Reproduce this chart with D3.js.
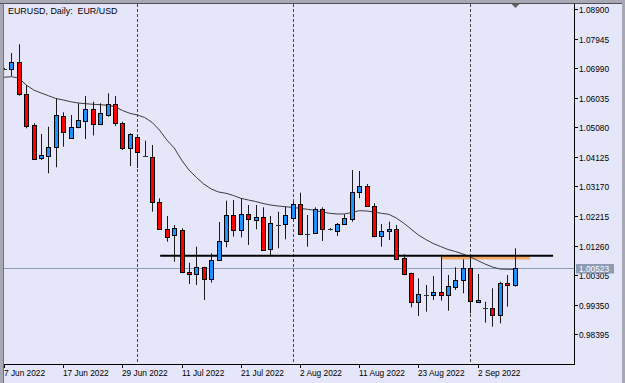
<!DOCTYPE html>
<html><head><meta charset="utf-8">
<script src="https://cdn.jsdelivr.net/npm/d3@7/dist/d3.min.js"></script>
<style>html,body{margin:0;padding:0;background:#e6e6fa;overflow:hidden}svg{display:block}</style>
</head><body>
<svg id="c" width="625" height="383"></svg>
<script>
// ---- data (EURUSD daily, bar index 0 = 7 Jun 2022) ----
const opens  = [1.06963,1.06953,1.07179,1.06165,1.05154,1.04073,1.04131,1.04428,1.05455,1.04725,
                1.05090,1.05274,1.05655,1.05177,1.05477,1.05832,1.05209,1.04402,1.04757,1.04163,
                1.04131,1.02678,1.01796,1.01580,1.01764,1.00398,1.00334,1.00560,1.00172,1.00818,
                1.01418,1.02248,1.01764,1.02281,1.02109,1.02193,1.01141,1.01935,1.01948,1.02142,
                1.02603,1.01635,1.01657,1.02442,1.01786,1.01709,1.01948,1.02142,1.03001,1.03185,
                1.02549,1.01580,1.01732,1.01796,1.00850,1.00366,0.99416,0.99665,0.99665,0.99752,
                0.99665,0.99933,1.00127,1.00527,0.99439,0.99255,0.99236,0.99019,1.00043,0.99965];
const highs  = [1.06995,1.07479,1.07760,1.06446,1.05209,1.04864,1.05099,1.06016,1.05564,1.05477,
                1.05855,1.06091,1.05907,1.05855,1.06178,1.06091,1.05261,1.04886,1.04831,1.04647,
                1.04509,1.02788,1.02216,1.01925,1.01819,1.00708,1.01225,1.00579,1.01012,1.02022,
                1.02710,1.02733,1.02788,1.02571,1.02571,1.02497,1.02216,1.02355,1.02516,1.02678,
                1.02968,1.02248,1.02497,1.02497,1.01828,1.01990,1.02271,1.03701,1.03669,1.03249,
                1.02626,1.01958,1.02032,1.01925,1.00979,1.00385,1.00204,0.99988,1.00279,1.00924,
                1.00311,1.00560,1.00818,1.00902,1.00343,0.99449,0.99881,1.00095,1.00311,1.01173];
const lows   = [1.06930,1.06737,1.06100,1.05048,1.04024,1.04024,1.03595,1.03789,1.04454,1.04702,
                1.05048,1.04702,1.04815,1.05154,1.05422,1.05122,1.04347,1.03830,1.03766,1.04137,
                1.02355,1.01764,1.01386,1.00740,1.00366,1.00020,0.99988,0.99504,1.00062,1.00795,
                1.01205,1.01548,1.01528,1.01280,1.01786,1.01118,1.00957,1.01173,1.01464,1.02087,
                1.01603,1.01225,1.01635,1.01409,1.01748,1.01570,1.01925,1.02032,1.02788,1.02516,
                1.01528,1.01225,1.01441,1.00795,1.00311,0.99268,0.98987,0.99126,0.99504,0.99481,
                0.99158,0.99827,0.99720,0.99074,0.99416,0.98771,0.98642,0.98751,0.99287,0.99933];
const closes = [1.06963,1.07179,1.06146,1.05122,1.04057,1.04170,1.04434,1.05477,1.04938,1.05090,
                1.05306,1.05655,1.05177,1.05532,1.05832,1.05209,1.04402,1.04854,1.04260,1.04163,
                1.02678,1.01819,1.01528,1.01819,1.00398,1.00334,1.00560,1.00172,1.00795,1.01418,
                1.02248,1.01764,1.02281,1.02109,1.02193,1.01141,1.01980,1.01935,1.02248,1.02603,
                1.01635,1.01635,1.02442,1.01786,1.01786,1.01948,1.02142,1.03001,1.03185,1.02549,
                1.01570,1.01732,1.01796,1.00828,1.00334,0.99416,0.99688,0.99665,0.99752,0.99665,
                0.99956,1.00149,1.00527,0.99449,0.99504,0.99255,0.99019,1.00043,0.99965,1.00523];
const maValues = [1.06695,1.06714,1.06672,1.06446,1.06285,1.06188,1.06100,1.06010,1.05962,1.05907,
                1.05865,1.05842,1.05823,1.05810,1.05790,1.05745,1.05623,1.05532,1.05477,1.05397,
                1.05242,1.04993,1.04670,1.04412,1.04024,1.03701,1.03459,1.03249,1.03088,1.02991,
                1.02949,1.02878,1.02788,1.02733,1.02684,1.02620,1.02571,1.02539,1.02516,1.02490,
                1.02465,1.02432,1.02400,1.02345,1.02303,1.02281,1.02281,1.02329,1.02387,1.02377,
                1.02345,1.02303,1.02271,1.02151,1.01990,1.01796,1.01603,1.01457,1.01328,1.01231,
                1.01134,1.01070,1.00989,1.00902,1.00779,1.00666,1.00569,1.00505,1.00495,1.00495];
const priceTicks = [1.08900,1.07945,1.06990,1.06035,1.05080,1.04125,1.03170,1.02215,1.01260,1.00305,0.99350,0.98395];
const dateTickIdx = [0,8,16,24,32,40,48,56,64];
const dateTickLabels = ["7 Jun 2022","17 Jun 2022","29 Jun 2022","11 Jul 2022","21 Jul 2022","2 Aug 2022","11 Aug 2022","23 Aug 2022","2 Sep 2022"];
const separatorIdx = [18,39,63];
const supportLine = {from:21.1, to:74.2, price:1.00931};
const zoneBox = {from:59.1, to:71.1, top:1.00950, bottom:1.00811};
const bidPrice = 1.00523;
const title = "EURUSD, Daily:  EUR/USD";

// ---- layout ----
const L=4, R=574, T=4, B=364;
const svg = d3.select("#c");
const x = d3.scaleLinear().domain([0,77.03]).range([L,R]);
const y = d3.scaleLinear().domain([0.97437,1.09061]).range([B,T]);
const cx = i => Math.round(x(i)) + 0.5;

// frame
svg.append("rect").attr("x",0).attr("y",0).attr("width",625).attr("height",383).attr("fill","#e6e6fa");
svg.append("rect").attr("x",0).attr("y",0).attr("width",625).attr("height",3).attr("fill","#a8a8b4");
svg.append("rect").attr("x",0).attr("y",0).attr("width",3).attr("height",383).attr("fill","#a8a8b4");
svg.append("line").attr("x1",0).attr("x2",625).attr("y1",3.5).attr("y2",3.5).attr("stroke","#505058");
svg.append("line").attr("x1",3.5).attr("x2",3.5).attr("y1",3).attr("y2",383).attr("stroke","#707078");
svg.append("rect").attr("x",622).attr("y",0).attr("width",3).attr("height",383).attr("fill","#a8a8b4");

svg.append("defs").append("clipPath").attr("id","plot")
  .append("rect").attr("x",L).attr("y",T).attr("width",R-L).attr("height",B-T);
const g = svg.append("g").attr("clip-path","url(#plot)");

// separators
g.selectAll("line.sep").data(separatorIdx).join("line").attr("class","sep")
  .attr("x1",d=>cx(d)).attr("x2",d=>cx(d)).attr("y1",T).attr("y2",B)
  .attr("stroke","#444").attr("stroke-dasharray","3,2").attr("stroke-width",1);

// bid line
const by = Math.round(y(bidPrice))+0.5;
g.append("line").attr("x1",L).attr("x2",R).attr("y1",by).attr("y2",by).attr("stroke","#8d9cb4");

// zone box
g.append("rect").attr("x",x(zoneBox.from)).attr("width",x(zoneBox.to)-x(zoneBox.from))
  .attr("y",y(zoneBox.top)).attr("height",y(zoneBox.bottom)-y(zoneBox.top)).attr("fill","#f4a766");

// MA
g.append("path").datum(maValues)
  .attr("d",d3.line().x((d,i)=>x(i)).y(d=>y(d)))
  .attr("fill","none").attr("stroke","#3c3c3c").attr("stroke-width",1);

// support line
g.append("line").attr("x1",x(supportLine.from)).attr("x2",x(supportLine.to))
  .attr("y1",y(supportLine.price)).attr("y2",y(supportLine.price)).attr("stroke","#000").attr("stroke-width",2);

// candles
const idx = d3.range(opens.length);
const cg = g.append("g");
cg.selectAll("line.wick").data(idx).join("line").attr("class","wick")
  .attr("x1",cx).attr("x2",cx).attr("y1",i=>y(highs[i])).attr("y2",i=>y(lows[i]))
  .attr("stroke","#1a1a1a").attr("stroke-width",1);
cg.selectAll("rect.body").data(idx.filter(i=>opens[i]!==closes[i])).join("rect").attr("class","body")
  .attr("x",i=>cx(i)-2).attr("width",4)
  .attr("y",i=>Math.round(y(Math.max(opens[i],closes[i])))+0.5)
  .attr("height",i=>Math.max(1,Math.round(Math.abs(y(opens[i])-y(closes[i])))))
  .attr("fill",i=>closes[i]>opens[i]?"#1e90ff":"#ff0000")
  .attr("stroke","#000").attr("stroke-width",1);
cg.selectAll("line.doji").data(idx.filter(i=>opens[i]===closes[i])).join("line").attr("class","doji")
  .attr("x1",i=>cx(i)-2.5).attr("x2",i=>cx(i)+2.5)
  .attr("y1",i=>Math.round(y(opens[i]))+0.5).attr("y2",i=>Math.round(y(opens[i]))+0.5)
  .attr("stroke","#333");

// shift marker
const mx = cx(69);
svg.append("path").attr("d",`M${mx-4},4 L${mx+4},4 L${mx},8 Z`).attr("fill","#606060");

// axes lines
svg.append("line").attr("x1",R+0.5).attr("x2",R+0.5).attr("y1",T).attr("y2",B+1).attr("stroke","#000");
svg.append("line").attr("x1",L).attr("x2",R+1).attr("y1",B+0.5).attr("y2",B+0.5).attr("stroke","#000");

const font = "Liberation Sans, Arial, sans-serif";
// right axis
const ra = svg.append("g");
priceTicks.forEach(p=>{
  const yy = Math.round(y(p))+0.5;
  ra.append("line").attr("x1",R).attr("x2",R+4).attr("y1",yy).attr("y2",yy).attr("stroke","#000");
  ra.append("text").attr("x",R+5).attr("y",yy+3).text(p.toFixed(5))
    .attr("font-family",font).attr("font-size","8.3px").attr("fill","#000");
});
// bid label
ra.append("rect").attr("x",R+2).attr("y",by-4.5).attr("width",38).attr("height",9.5).attr("fill","#8d9cb4");
ra.append("text").attr("x",R+5).attr("y",by+3).text(bidPrice.toFixed(5))
  .attr("font-family",font).attr("font-size","8.3px").attr("fill","#fff");

// bottom axis
const ba = svg.append("g");
dateTickIdx.forEach((d,k)=>{
  const xx = cx(d);
  ba.append("line").attr("x1",xx).attr("x2",xx).attr("y1",B).attr("y2",B+4).attr("stroke","#000");
  ba.append("text").attr("x",xx-0.5).attr("y",376).text(dateTickLabels[k])
    .attr("font-family",font).attr("font-size","8.3px").attr("fill","#000");
});

// title
svg.append("text").attr("x",8).attr("y",13.5).text(title)
  .attr("font-family",font).attr("font-size","8.9px").attr("fill","#000").attr("xml:space","preserve")
  .style("white-space","pre");
</script>
</body></html>
